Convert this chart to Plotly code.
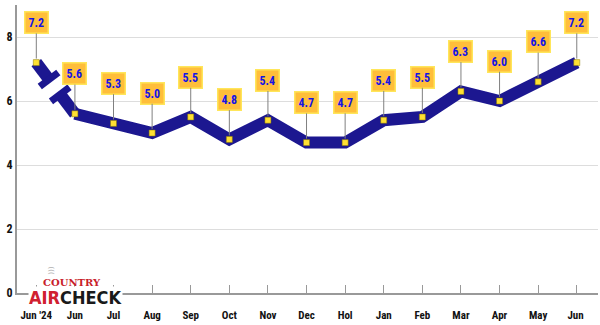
import plotly.graph_objects as go

categories = ["Jun '24", "Jun", "Jul", "Aug", "Sep", "Oct", "Nov", "Dec", "Hol",
              "Jan", "Feb", "Mar", "Apr", "May", "Jun "]
values = [7.2, 5.6, 5.3, 5.0, 5.5, 4.8, 5.4, 4.7, 4.7, 5.4, 5.5, 6.3, 6.0, 6.6, 7.2]
y_ticks = [0, 2, 4, 6, 8]

NAVY = "#1c1790"
FONT = "Liberation Sans Narrow, Arial Narrow, Roboto Condensed, Roboto, sans-serif"

xi = list(range(len(categories)))
fig = go.Figure()

# main line (from second point onward)
fig.add_trace(go.Scatter(x=xi[1:], y=values[1:], mode="lines",
                         line=dict(color=NAVY, width=12, shape="linear"),
                         hoverinfo="skip", showlegend=False))

# broken first segment
x0, y0, x1, y1 = xi[0], values[0], xi[1], values[1]
def lerp(t):
    return x0 + (x1 - x0) * t, y0 + (y1 - y0) * t
ax_, ay_ = lerp(0.33)
bx_, by_ = lerp(0.62)
fig.add_trace(go.Scatter(x=[x0, ax_], y=[y0, ay_], mode="lines",
                         line=dict(color=NAVY, width=12), hoverinfo="skip", showlegend=False))
fig.add_trace(go.Scatter(x=[bx_, x1], y=[by_, y1], mode="lines",
                         line=dict(color=NAVY, width=12), hoverinfo="skip", showlegend=False))
# break caps (short bars perpendicular to the segment on screen)
for (cx, cy) in [(ax_, ay_), (bx_, by_)]:
    fig.add_trace(go.Scatter(x=[cx - 0.24, cx + 0.24], y=[cy - 0.22, cy + 0.22], mode="lines",
                             line=dict(color=NAVY, width=7), hoverinfo="skip", showlegend=False))

# markers
fig.add_trace(go.Scatter(x=xi, y=values, mode="markers",
                         marker=dict(symbol="square", size=6, color="#ffe033",
                                     line=dict(color="#8a7a00", width=0.5)),
                         hoverinfo="skip", showlegend=False))

for i, v in zip(xi, values):
    fig.add_annotation(x=i, y=v, text=f"<b>{v:.1f}</b>", showarrow=True,
                       ax=0, ay=-40, arrowhead=0, arrowwidth=1, arrowcolor="#808080",
                       standoff=4, bgcolor="#ffbe3a", bordercolor="#ffe65a",
                       borderwidth=1.5, borderpad=3,
                       font=dict(family=FONT, size=12, color="#1414e6"))

# logo
fig.add_annotation(xref="paper", yref="paper", x=0.1015, y=-0.016, xanchor="center",
                   yanchor="middle", showarrow=False, bgcolor="white", borderpad=0,
                   text="<b><span style='color:#d02030'>AIR</span>CHECK</b>",
                   font=dict(family="DejaVu Sans Condensed, DejaVu Sans", size=18, color="#1a1a1a"))
fig.add_annotation(xref="paper", yref="paper", x=0.095, y=0.036, xanchor="center",
                   yanchor="middle", showarrow=False, borderpad=0,
                   text="<b>COUNTRY</b>", font=dict(family="DejaVu Serif", size=10, color="#c8202a"))
fig.add_annotation(xref="paper", yref="paper", x=0.0585, y=0.078, xanchor="center",
                   yanchor="middle", showarrow=False, textangle=90, borderpad=0,
                   text="(((", font=dict(family="DejaVu Sans", size=7, color="#b0b0b0"))

fig.update_layout(
    width=600, height=325,
    margin=dict(l=17, r=2, t=5, b=32),
    paper_bgcolor="white", plot_bgcolor="white",
    font=dict(family=FONT, size=11, color="#111111"),
    xaxis=dict(tickmode="array", tickvals=xi, ticktext=[f"<b>{c}</b>" for c in categories],
               range=[-0.5, 14.55], showgrid=False, showline=True, linecolor="#999999",
               linewidth=2, ticks="inside", ticklen=8, tickcolor="#999999", tickwidth=1,
               ticklabelstandoff=11,
               tickfont=dict(family=FONT, size=11, color="#111111"), zeroline=False,
               fixedrange=True),
    yaxis=dict(range=[0, 9], tickvals=y_ticks, ticktext=[f"<b>{t}</b>" for t in y_ticks],
               showgrid=True, gridcolor="#dddddd", gridwidth=1, showline=True,
               linecolor="#999999", linewidth=2, ticks="", zeroline=False,
               tickfont=dict(family=FONT, size=12, color="#111111"), fixedrange=True),
)

fig.write_html("out.html")
